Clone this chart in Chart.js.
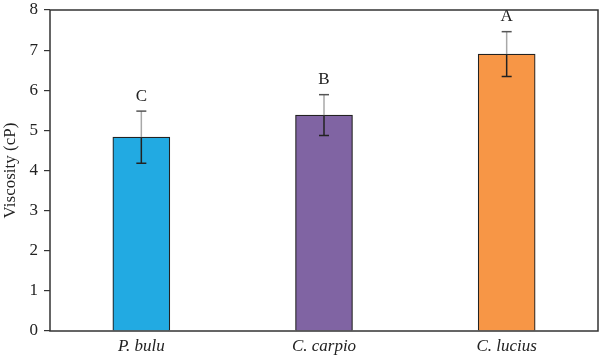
<!DOCTYPE html>
<html>
<head>
<meta charset="utf-8">
<script src="https://cdn.jsdelivr.net/npm/chart.js@4/dist/chart.umd.min.js"></script>
<style>
  html, body { margin: 0; padding: 0; background: #fff; }
  #wrap { width: 600px; height: 358px; position: relative; }
</style>
</head>
<body>
<div id="wrap"><canvas id="viscosityChart"></canvas></div>
<script>
// data
const species = ['P. bulu', 'C. carpio', 'C. lucius'];
const viscosity = [4.83, 5.38, 6.90];
const viscositySd = [0.65, 0.51, 0.56];
const groupLetters = ['C', 'B', 'A'];
const barColors = ['#22aae2', '#8064a3', '#f79646'];
const yTicks = [0, 1, 2, 3, 4, 5, 6, 7, 8];

const serif = '"Liberation Serif", "DejaVu Serif", serif';

// error bars + significance letters
const errorBarPlugin = {
    id: 'errorBars',
    afterDatasetsDraw(chart) {
        const ctx = chart.ctx;
        const xs = chart.scales.x;
        const ys = chart.scales.y;
        ctx.save();
        viscosity.forEach(function(v, i) {
            const x = xs.getPixelForValue(i);
            const yTop = ys.getPixelForValue(v + viscositySd[i]);
            const yMid = ys.getPixelForValue(v);
            const yBot = ys.getPixelForValue(v - viscositySd[i]);
            const cap = 5;
            // upper half (light grey above the bar)
            ctx.strokeStyle = '#a8a8a8';
            ctx.lineWidth = 1.5;
            ctx.beginPath();
            ctx.moveTo(x, yTop);
            ctx.lineTo(x, yMid);
            ctx.stroke();
            ctx.strokeStyle = '#555';
            ctx.beginPath();
            ctx.moveTo(x - cap, yTop);
            ctx.lineTo(x + cap, yTop);
            ctx.stroke();
            // lower half
            ctx.strokeStyle = '#222';
            ctx.beginPath();
            ctx.moveTo(x, yMid);
            ctx.lineTo(x, yBot);
            ctx.moveTo(x - cap, yBot);
            ctx.lineTo(x + cap, yBot);
            ctx.stroke();
            // letter
            ctx.fillStyle = '#222';
            ctx.font = '17px ' + serif;
            ctx.textAlign = 'center';
            ctx.textBaseline = 'middle';
            ctx.fillText(groupLetters[i], x, yTop - 15);
        });
        ctx.restore();
    }
};

// full frame around the plot area
const framePlugin = {
    id: 'frame',
    afterDraw(chart) {
        const a = chart.chartArea;
        const ctx = chart.ctx;
        ctx.save();
        ctx.strokeStyle = '#333';
        ctx.lineWidth = 1.5;
        ctx.strokeRect(a.left, a.top, a.right - a.left, a.bottom - a.top);
        ctx.restore();
    }
};

new Chart(document.getElementById('viscosityChart'), {
    type: 'bar',
    data: {
        labels: species,
        datasets: [{
            data: viscosity,
            backgroundColor: barColors,
            borderColor: '#222',
            borderWidth: 1.2,
            barThickness: 57
        }]
    },
    options: {
        responsive: true,
        maintainAspectRatio: false,
        animation: false,
        layout: { padding: { top: 10, right: 2, left: 0, bottom: 0 } },
        plugins: {
            legend: { display: false },
            tooltip: { enabled: false }
        },
        scales: {
            x: {
                grid: { display: false, drawTicks: false },
                border: { display: false },
                ticks: {
                    color: '#222',
                    padding: 5,
                    font: { family: serif, size: 17, style: 'italic' }
                },
                afterFit(scale) {
                    scale.height = 27;
                    scale.paddingLeft = 0;
                    scale.paddingRight = 0;
                }
            },
            y: {
                min: 0,
                max: 8,
                afterBuildTicks(scale) {
                    scale.ticks = yTicks.map(function(v) { return { value: v }; });
                },
                grid: {
                    drawOnChartArea: false,
                    color: '#333',
                    tickLength: 6,
                    lineWidth: 1.2
                },
                border: { display: false },
                ticks: {
                    color: '#222',
                    padding: 6,
                    font: { family: serif, size: 17 }
                },
                title: {
                    display: true,
                    text: 'Viscosity (cP)',
                    color: '#222',
                    padding: { top: 0, bottom: 3 },
                    font: { family: serif, size: 17 }
                },
                afterFit(scale) {
                    scale.width = 50;
                    scale.paddingTop = 0;
                    scale.paddingBottom = 0;
                }
            }
        }
    },
    plugins: [errorBarPlugin, framePlugin]
});
</script>
</body>
</html>
